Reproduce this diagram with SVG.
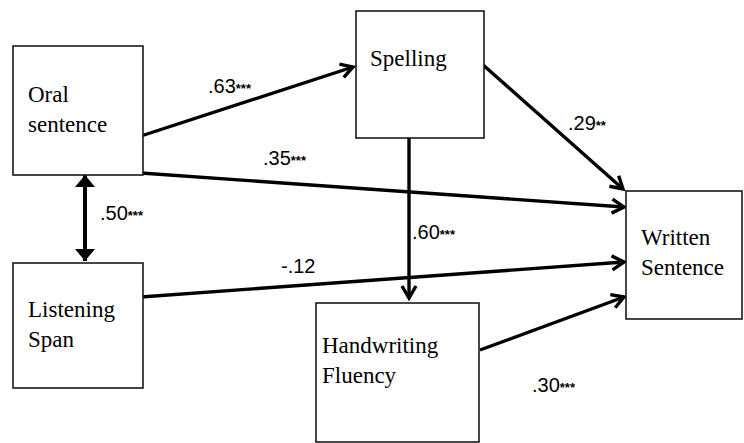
<svg xmlns="http://www.w3.org/2000/svg" width="744" height="443" viewBox="0 0 744 443">
<style>
.box{fill:#fff;stroke:#1a1a1a;stroke-width:1.6}
.nt{font-family:"Liberation Serif","Times New Roman",serif;font-size:23px;fill:#000}
.lb{font-family:"Liberation Sans",Arial,sans-serif;font-size:20px;fill:#000}
.st{font-size:13px;font-weight:bold}
.cn{stroke:#000;stroke-width:3.4;fill:none}
</style>
<defs>
<marker id="ah" markerUnits="userSpaceOnUse" viewBox="-15 -10 18 20" markerWidth="18" markerHeight="20" refX="0" refY="0" orient="auto">
<path d="M-12,-7 L0,0 L-12,7" fill="none" stroke="#000" stroke-width="3.4"/>
</marker>
<marker id="fh" markerUnits="userSpaceOnUse" viewBox="-14 -12 16 24" markerWidth="16" markerHeight="24" refX="0" refY="0" orient="auto-start-reverse">
<path d="M-12,-10 L0,0 L-12,10 Z" fill="#000"/>
</marker>
</defs>
<g id="connectors">
<line class="cn" x1="141" y1="136" x2="353" y2="67" marker-end="url(#ah)"/>
<line class="cn" x1="141" y1="173" x2="624" y2="207" marker-end="url(#ah)"/>
<line class="cn" x1="141" y1="297" x2="624" y2="262" marker-end="url(#ah)"/>
<line class="cn" x1="480" y1="350" x2="624" y2="297" marker-end="url(#ah)"/>
<line class="cn" x1="482" y1="64" x2="623" y2="189" marker-end="url(#ah)"/>
<line class="cn" x1="409" y1="138" x2="409" y2="298" marker-end="url(#ah)"/>
<line x1="85" y1="175" x2="85" y2="261" stroke="#000" stroke-width="4" marker-start="url(#fh)" marker-end="url(#fh)"/>
</g>
<g id="oral">
<rect class="box" x="13" y="46" width="130" height="129"/>
<text class="nt" x="28" y="102">Oral</text>
<text class="nt" x="28" y="132">sentence</text>
</g>
<g id="spelling">
<rect class="box" x="356" y="11" width="128" height="127"/>
<text class="nt" x="370" y="66">Spelling</text>
</g>
<g id="listening">
<rect class="box" x="13" y="263" width="130" height="125"/>
<text class="nt" x="28" y="317">Listening</text>
<text class="nt" x="28" y="347">Span</text>
</g>
<g id="handwriting">
<rect class="box" x="316" y="303" width="163" height="139"/>
<text class="nt" x="322" y="353">Handwriting</text>
<text class="nt" x="322" y="383">Fluency</text>
</g>
<g id="written">
<rect class="box" x="626" y="191" width="116" height="128"/>
<text class="nt" x="641" y="245">Written</text>
<text class="nt" x="641" y="275">Sentence</text>
</g>
<g id="labels">
<text class="lb" x="208" y="93">.63<tspan class="st">***</tspan></text>
<text class="lb" x="568" y="130">.29<tspan class="st">**</tspan></text>
<text class="lb" x="263" y="165">.35<tspan class="st">***</tspan></text>
<text class="lb" x="100" y="220">.50<tspan class="st">***</tspan></text>
<text class="lb" x="412" y="239">.60<tspan class="st">***</tspan></text>
<text class="lb" x="281" y="273">-.12</text>
<text class="lb" x="532" y="392">.30<tspan class="st">***</tspan></text>
</g>
</svg>
